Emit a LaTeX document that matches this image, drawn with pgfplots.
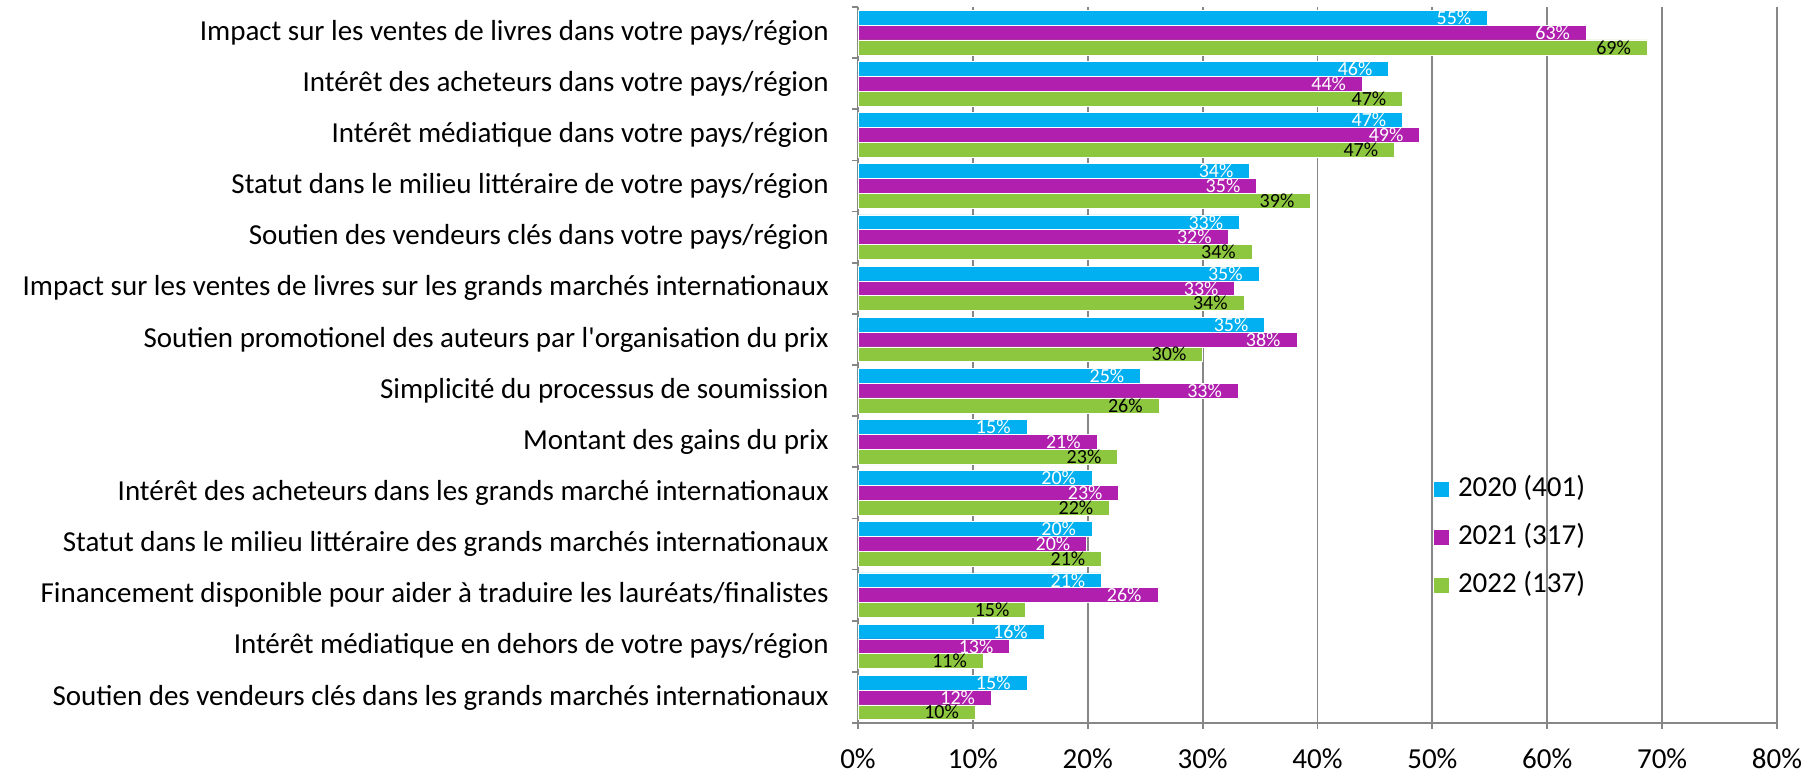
\documentclass[border=0pt]{standalone}
\usepackage{fontspec}
\setmainfont{Carlito}
\usepackage{pgfplots}
\usepackage{pgfplotstable}
\pgfplotsset{compat=1.18}
\definecolor{prixBleu}{HTML}{00B0F0}
\definecolor{prixMagenta}{HTML}{B01FAE}
\definecolor{prixVert}{HTML}{8DC63F}
\definecolor{prixGris}{HTML}{878787}

% idx: 0 = top category
\pgfplotstableread{
idx a b c
0 54.8 63.4 68.7
1 46.2 43.9 47.4
2 47.4 48.9 46.7
3 34.1 34.7 39.4
4 33.2 32.2 34.3
5 34.9 32.8 33.6
6 35.4 38.2 30.0
7 24.6 33.1 26.2
8 14.7 20.8 22.6
9 20.4 22.7 21.9
10 20.4 19.9 21.2
11 21.2 26.1 14.6
12 16.2 13.2 10.9
13 14.7 11.6 10.2
}\prixdata

\begin{document}
\begin{tikzpicture}
\begin{axis}[
  at={(0,0)}, anchor=south west,
  scale only axis, width=459.5pt, height=358pt,
  xbar, bar width=0.29,
  y dir=reverse,
  xmin=0, xmax=80, ymin=-0.5, ymax=13.5,
  axis lines=left,
  axis line style={prixGris, line width=0.9pt},
  every outer x axis line/.append style={-}, every outer y axis line/.append style={-},
  xtick={0,10,...,80},
  xticklabel={\pgfmathprintnumber{\tick}\%},
  /pgf/number format/assume math mode=true,
  xticklabel style={font=\fontsize{14.5}{16}\selectfont, anchor=north, inner sep=0pt, yshift=-9.5pt},
  ytick={0,...,13},
  minor ytick={-0.5,0.5,...,13.5},
  yticklabels={
    Impact sur les ventes de livres dans votre pays/région,
    Intérêt des acheteurs dans votre pays/région,
    Intérêt médiatique dans votre pays/région,
    Statut dans le milieu littéraire de votre pays/région,
    Soutien des vendeurs clés dans votre pays/région,
    Impact sur les ventes de livres sur les grands marchés internationaux,
    Soutien promotionel des auteurs par l\textquotesingle organisation du prix,
    Simplicité du processus de soumission,
    Montant des gains du prix,
    Intérêt des acheteurs dans les grands marché internationaux,
    Statut dans le milieu littéraire des grands marchés internationaux,
    Financement disponible pour aider à traduire les lauréats/finalistes,
    Intérêt médiatique en dehors de votre pays/région,
    Soutien des vendeurs clés dans les grands marchés internationaux},
  yticklabel style={font=\fontsize{14.5}{16}\selectfont, anchor=east, inner sep=0pt, xshift=-11.5pt},
  tick align=outside,
  major tick length=3pt, minor tick length=3pt,
  major x tick style={prixGris, line width=0.9pt},
  major y tick style={draw=none},
  minor y tick style={prixGris, line width=0.9pt},
  xmajorgrids, grid style={prixGris, line width=0.9pt},
  nodes near coords={\pgfmathprintnumber[fixed,precision=0]{\pgfplotspointmeta}\%},
  point meta=x,
  every node near coord/.append style={anchor=east, inner sep=0pt, xshift=-8pt,
    font=\fontsize{10}{11}\selectfont},
  legend style={draw=none, fill=none, at={(axis description cs:0.6257,0.345)}, anchor=north west,
    inner sep=0pt, row sep=11pt, font=\fontsize{14.5}{16}\selectfont,
    nodes={inner sep=0pt, text height=10pt, text depth=3pt}},
  legend cell align=left,
  legend image code/.code={\fill[#1] (0pt,-4pt) rectangle (8pt,4pt); \path (12pt,0pt);},
]
\addplot[fill=prixBleu, draw=white, line width=0.3pt, bar shift=-0.29,
  every node near coord/.append style={text=white}] table[x=a, y=idx] {\prixdata};
\addplot[fill=prixMagenta, draw=white, line width=0.3pt, bar shift=0,
  every node near coord/.append style={text=white}] table[x=b, y=idx] {\prixdata};
\addplot[fill=prixVert, draw=white, line width=0.3pt, bar shift=0.29,
  every node near coord/.append style={text=black}] table[x=c, y=idx] {\prixdata};
\legend{2020 (401), 2021 (317), 2022 (137)}
\end{axis}
\pgfresetboundingbox
\path (-429pt,-25.5pt) rectangle (474pt,361.5pt);
\end{tikzpicture}
\end{document}
